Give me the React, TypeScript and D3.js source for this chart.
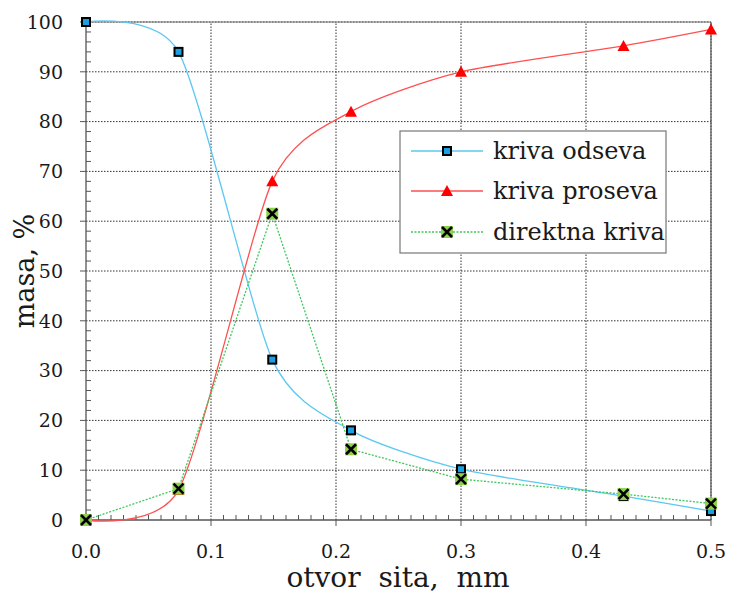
import React from 'react';
import * as d3 from 'd3';

const sieve = [0, 0.074, 0.149, 0.212, 0.3, 0.43, 0.5];
const odseva = [100, 94, 32.2, 18, 10.2, 4.8, 1.8];
const proseva = [0, 6, 68, 82, 90, 95.2, 98.5];
const direktna = [0, 6.3, 61.5, 14.2, 8.2, 5.2, 3.3];
const xTicks = [0, 0.1, 0.2, 0.3, 0.4, 0.5];
const yTicks = [0, 10, 20, 30, 40, 50, 60, 70, 80, 90, 100];
const legendLabels = ['kriva odseva', 'kriva proseva', 'direktna kriva'];

const W = 729, H = 594;
const FONT = "'DejaVu Serif', 'Liberation Serif', 'Times New Roman', serif";
const BLUE = '#5cc8f2';
const RED = '#ff5050';
const GREEN = '#3cc85a';

export default function App() {
  const x = d3.scaleLinear().domain([0, 0.5]).range([86, 711]);
  const y = d3.scaleLinear().domain([0, 100]).range([520, 22]);
  const smooth = d3.line<number>().x((_, i) => x(sieve[i])).y(d => y(d)).curve(d3.curveCardinal.tension(0.3));
  const straight = d3.line<number>().x((_, i) => x(sieve[i])).y(d => y(d));
  const xMinor = d3.range(0, 51).map(i => i / 100).filter((_, i) => i % 10 !== 0);
  const yMinor = d3.range(0, 101, 2).filter(v => v % 10 !== 0);

  const square = (cx: number, cy: number, key: string) => (
    <rect key={key} x={cx - 4} y={cy - 4} width={8} height={8} fill="#1a9fe0" stroke="#000" strokeWidth={2} />
  );
  const tri = (cx: number, cy: number, key: string) => (
    <path key={key} d={`M${cx},${cy - 6}L${cx + 6},${cy + 5}L${cx - 6},${cy + 5}Z`} fill="#ff0000" />
  );
  const cross = (cx: number, cy: number, key: string) => (
    <g key={key}>
      <rect x={cx - 6} y={cy - 6} width={12} height={12} fill="#8fd14f" />
      <path d={`M${cx - 5},${cy - 5}L${cx + 5},${cy + 5}M${cx + 5},${cy - 5}L${cx - 5},${cy + 5}`} stroke="#000" strokeWidth={2.6} />
    </g>
  );

  const lx0 = 411, lx1 = 483, lm = 447, ltx = 493;
  const lrows = [151, 191, 232];
  const ts = { fontFamily: FONT };

  return (
    <svg width={W} height={H} style={{ position: 'absolute', left: 0, top: 0, background: '#fff', fontFamily: FONT }}>
      {xTicks.slice(1).map(t => (
        <line key={'gx' + t} x1={x(t)} x2={x(t)} y1={y(0)} y2={y(100)} stroke="#333" strokeWidth={1} strokeDasharray="1.5,1.5" />
      ))}
      {yTicks.slice(1).map(t => (
        <line key={'gy' + t} x1={x(0)} x2={x(0.5)} y1={y(t)} y2={y(t)} stroke="#333" strokeWidth={1} strokeDasharray="1.5,1.5" />
      ))}
      <line x1={x(0)} x2={x(0.5)} y1={y(100)} y2={y(100)} stroke="#777" strokeWidth={1.2} />
      <line x1={x(0.5)} x2={x(0.5)} y1={y(100)} y2={y(0)} stroke="#555" strokeWidth={1.2} />
      <line x1={x(0)} x2={x(0.5)} y1={y(0)} y2={y(0)} stroke="#555" strokeWidth={1.3} />
      <line x1={x(0)} x2={x(0)} y1={y(0)} y2={y(100)} stroke="#555" strokeWidth={1.3} />
      {xMinor.map(t => (
        <line key={'xm' + t} x1={x(t)} x2={x(t)} y1={y(0)} y2={y(0) - 5} stroke="#555" strokeWidth={1} />
      ))}
      {xTicks.map(t => (
        <line key={'xt' + t} x1={x(t)} x2={x(t)} y1={y(0)} y2={y(0) + 6} stroke="#555" strokeWidth={1} />
      ))}
      {yMinor.map(t => (
        <line key={'ym' + t} x1={x(0)} x2={x(0) + 5} y1={y(t)} y2={y(t)} stroke="#555" strokeWidth={1} />
      ))}
      {yTicks.map(t => (
        <line key={'yt' + t} x1={x(0) - 6} x2={x(0)} y1={y(t)} y2={y(t)} stroke="#555" strokeWidth={1} />
      ))}
      {xTicks.map(t => (
        <text key={'xl' + t} style={ts} x={x(t)} y={558} textAnchor="middle" fontSize={19} fill="#1a1a1a">{t.toFixed(1)}</text>
      ))}
      {yTicks.map(t => (
        <text key={'yl' + t} style={ts} x={63} y={y(t)} dy="0.36em" textAnchor="end" fontSize={19} fill="#1a1a1a">{t}</text>
      ))}
      <text style={ts} x={398} y={587} textAnchor="middle" fontSize={28} fill="#1a1a1a" wordSpacing={9}>otvor sita, mm</text>
      <text style={ts} transform={`translate(34,${y(50)}) rotate(-90)`} textAnchor="middle" fontSize={27} fill="#1a1a1a">masa, %</text>
      <path d={smooth(odseva) || ''} fill="none" stroke={BLUE} strokeWidth={1.3} />
      <path d={smooth(proseva) || ''} fill="none" stroke={RED} strokeWidth={1.3} />
      <path d={straight(direktna) || ''} fill="none" stroke={GREEN} strokeWidth={1.3} strokeDasharray="2,1.5" />
      {odseva.map((v, i) => square(x(sieve[i]), y(v), 'bs' + i))}
      {proseva.map((v, i) => tri(x(sieve[i]), y(v), 'rt' + i))}
      {direktna.map((v, i) => cross(x(sieve[i]), y(v), 'gx' + i))}
      <rect x={400} y={131} width={266} height={122} fill="#fff" stroke="#777" strokeWidth={1.2} />
      <line x1={lx0} x2={lx1} y1={lrows[0]} y2={lrows[0]} stroke={BLUE} strokeWidth={1.3} />
      {square(lm, lrows[0], 'l0')}
      <line x1={lx0} x2={lx1} y1={lrows[1]} y2={lrows[1]} stroke={RED} strokeWidth={1.3} />
      {tri(lm, lrows[1], 'l1')}
      <line x1={lx0} x2={lx1} y1={lrows[2]} y2={lrows[2]} stroke={GREEN} strokeWidth={1.3} strokeDasharray="2,1.5" />
      {cross(lm, lrows[2], 'l2')}
      {legendLabels.map((s, i) => (
        <text key={'lt' + i} style={ts} x={ltx} y={lrows[i]} dy="0.35em" fontSize={24} fill="#1a1a1a">{s}</text>
      ))}
    </svg>
  );
}
